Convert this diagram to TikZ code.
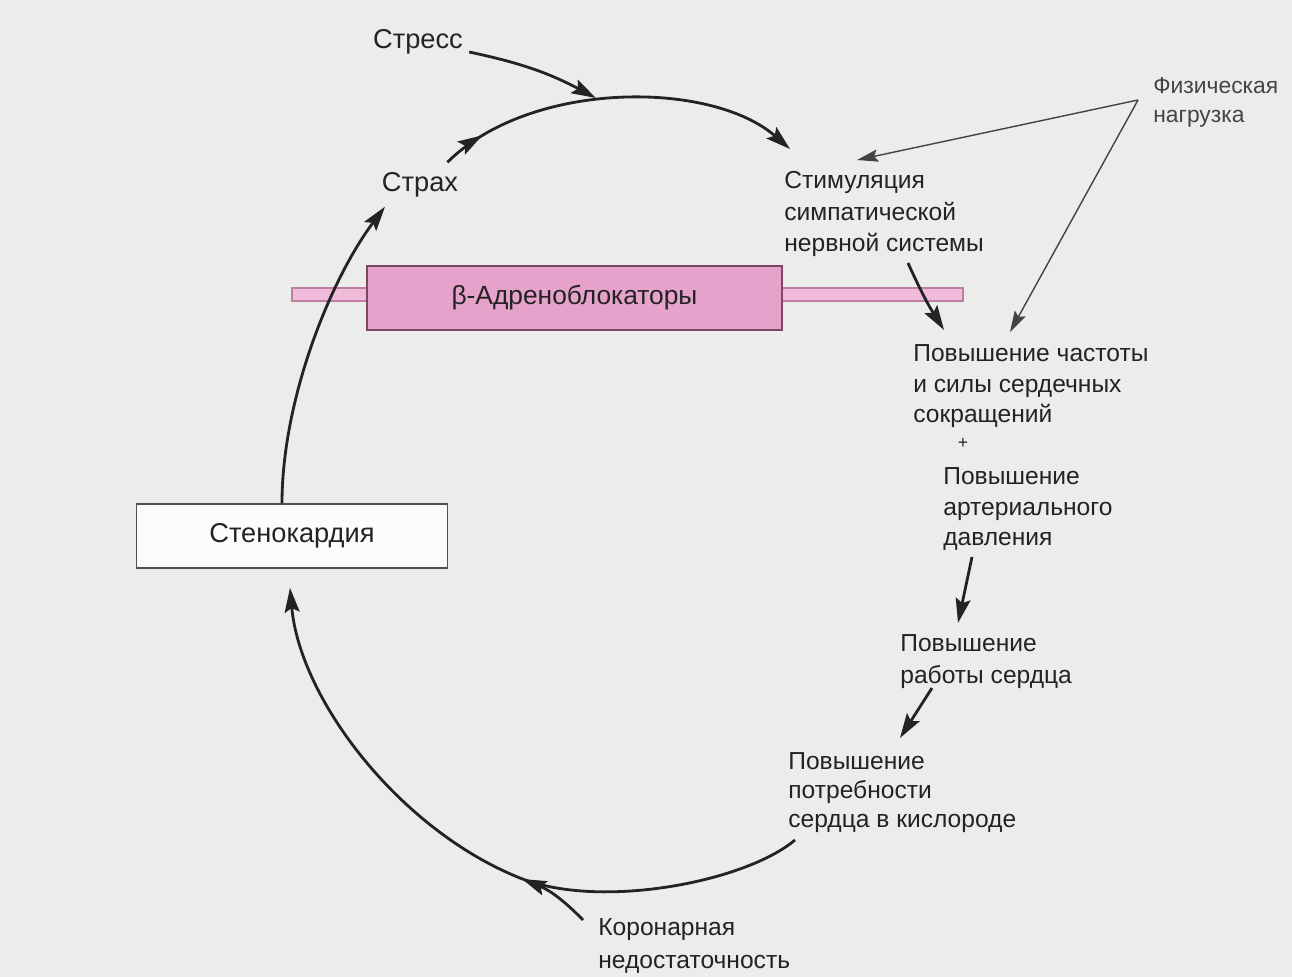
\documentclass[tikz,border=0pt]{standalone}
\usepackage{fontspec}
\setmainfont{Liberation Sans}
\usetikzlibrary{arrows.meta,decorations.markings}
\definecolor{bgcol}{RGB}{236,236,234}
\definecolor{betafill}{RGB}{230,162,202}
\definecolor{betadraw}{RGB}{125,70,100}
\definecolor{barfill}{RGB}{238,188,216}
\definecolor{bardraw}{RGB}{190,125,162}
\definecolor{ink}{RGB}{35,35,35}
\begin{document}
\begin{tikzpicture}[x=0.02cm,y=-0.02cm,
  txt/.style={inner sep=0pt, text=ink, align=left},
  big/.style={txt, font=\fontsize{15.5}{18}\selectfont},
  mid/.style={txt, font=\fontsize{14}{17.5}\selectfont},
  sml/.style={txt, font=\fontsize{13}{16.5}\selectfont, text=ink!85},
  tip/.style={-{Stealth[length=14pt,width=8.5pt,inset=2.5pt]}},
  flow/.style={line width=1.6pt, draw=ink, tip},
  thinflow/.style={line width=0.8pt, draw=ink!85, -{Stealth[length=12pt,width=7pt,inset=2pt]}},
  midarrow/.style={postaction={decorate,decoration={markings,
      mark=at position #1 with {\arrow{Stealth[length=14pt,width=8.5pt,inset=2.5pt]}}}}},
  stenobox/.style={draw=ink!80, fill=white!85!bgcol, line width=0.9pt,
      minimum width=6.22cm, minimum height=1.28cm, inner sep=0pt,
      font=\fontsize{15.5}{18}\selectfont, text=ink},
  betabox/.style={draw=betadraw, fill=betafill, line width=0.9pt,
      minimum width=8.3cm, minimum height=1.28cm, inner sep=0pt,
      font=\fontsize{15}{18}\selectfont, text=ink},
  bar/.style={draw=bardraw, fill=barfill, line width=0.7pt},
]
\fill[bgcol] (0,0) rectangle (1292,977);

% beta-blocker bar
\path[bar] (292,288) rectangle (963,301);
\node[betabox] (beta) at (574.5,298) {β-Адреноблокаторы};

% text nodes
\node[big] (stress) at (418,42) {Стресс};
\node[big] (strah) at (420,185) {Страх};
\node[stenobox] (steno) at (292,536) {Стенокардия};
\node[mid, anchor=north west, font=\fontsize{14}{18}\selectfont] (stim) at (784,171) {Стимуляция\\симпатической\\нервной системы};
\node[sml, anchor=north west] (phys) at (1153,77) {Физическая\\нагрузка};
\node[mid, anchor=north west] (hr) at (913,344) {Повышение частоты\\и силы сердечных\\сокращений};
\node[txt, font=\fontsize{10}{12}\selectfont] (plus) at (963,443) {+};
\node[mid, anchor=north west] (bp) at (943,467) {Повышение\\артериального\\давления};
\node[mid, anchor=north west, font=\fontsize{14}{18.5}\selectfont] (work) at (900,634) {Повышение\\работы сердца};
\node[mid, anchor=north west, font=\fontsize{14}{16.5}\selectfont] (o2) at (788,752) {Повышение\\потребности\\сердца в кислороде};
\node[mid, anchor=north west, font=\fontsize{14}{19}\selectfont] (cor) at (598,918) {Коронарная\\недостаточность};

\coordinate (arctop) at (596,98);
\coordinate (cormeet) at (520,878);

% connectors
\draw[flow] ([shift={(6,10)}]stress.east) to[bend left=8] (arctop);
\draw[flow, midarrow=0.12] ([shift={(-11,-10)}]strah.north east)
   .. controls (530,80) and (711,80) .. ([shift={(6,-22)}]stim.north west);
\draw[flow] ([shift={(-10,0)}]steno.north)
   .. controls (282,400) and (330,280) .. ([shift={(-35,9)}]strah.south);
\draw[thinflow] ([shift={(-15,23)}]phys.north west) -- ([shift={(73,-11)}]stim.north west);
\draw[thinflow] ([shift={(-15,23)}]phys.north west) -- ([shift={(97,-12)}]hr.north west);
\draw[flow] ([shift={(124,92)}]stim.north west) to[bend right=4] ([shift={(31,-14)}]hr.north west);
\draw[flow] ([shift={(29,90)}]bp.north west) -- ([shift={(58,-11)}]work.north west);
\draw[flow] ([shift={(32,54)}]work.north west) -- ([shift={(112,-14)}]o2.north west);
\draw[flow] ([shift={(7,88)}]o2.north west)
   .. controls (745,882) and (600,910) .. (cormeet)
   .. controls (400,830) and (300,700) .. ([shift={(-2,19)}]steno.south);
\draw[flow] ([shift={(-15,2)}]cor.north west) to[bend right=12] ([shift={(2,1)}]cormeet);
\end{tikzpicture}
\end{document}
